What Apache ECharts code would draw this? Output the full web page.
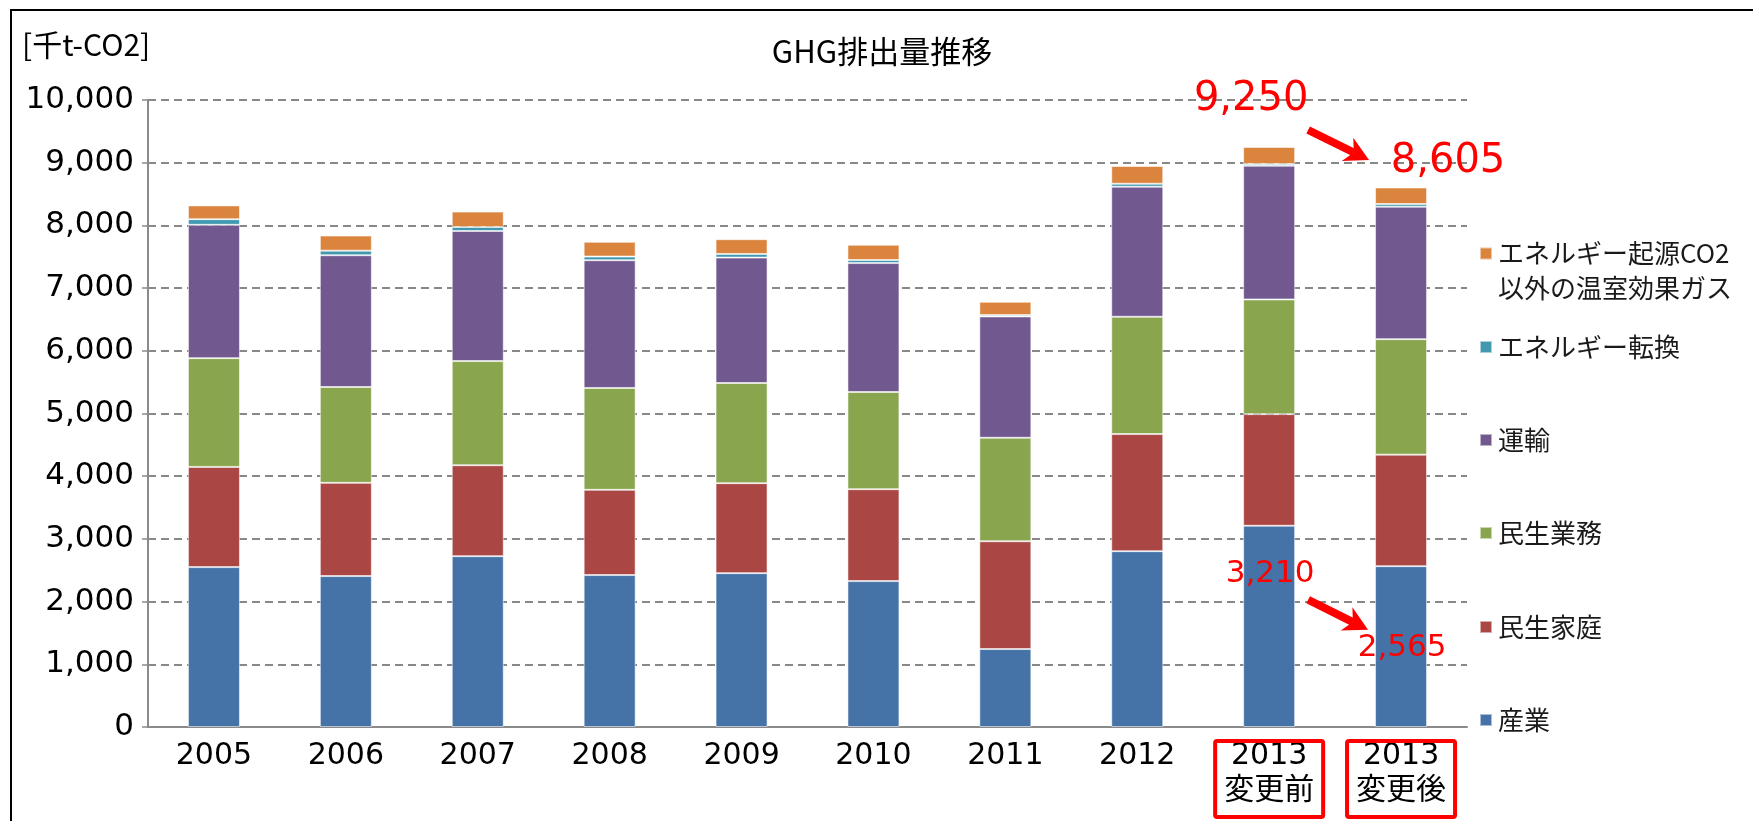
<!DOCTYPE html>
<html>
<head>
<meta charset="utf-8">
<title>GHG排出量推移</title>
<script src="https://cdn.jsdelivr.net/npm/echarts@6/dist/echarts.min.js"></script>
<style>
  html, body { margin: 0; padding: 0; background: #fff; }
  #chart { width: 1753px; height: 821px; }
</style>
</head>
<body>
<div id="chart"></div>
<script>
  // categories & values (千t-CO2)
  const categories = ['2005', '2006', '2007', '2008', '2009', '2010', '2011', '2012', '2013\n変更前', '2013\n変更後']
  const sangyo = [2550, 2407, 2725, 2423, 2454, 2327, 1243, 2804, 3210, 2565]
  const minseiKatei = [1598, 1487, 1450, 1360, 1435, 1466, 1720, 1868, 1780, 1779]
  const minseiGyomu = [1735, 1529, 1661, 1624, 1597, 1550, 1650, 1871, 1829, 1842]
  const unyu = [2127, 2101, 2075, 2038, 2001, 2056, 1935, 2074, 2133, 2112]
  const tenkan = [89, 73, 63, 58, 58, 48, 21, 48, 27, 42]
  const sonota = [220, 241, 246, 235, 235, 244, 213, 282, 271, 265]

  const seriesNames = ['産業', '民生家庭', '民生業務', '運輸', 'エネルギー転換', 'エネルギー起源CO2以外の温室効果ガス']
  const seriesData = [sangyo, minseiKatei, minseiGyomu, unyu, tenkan, sonota]
  const colors = ['#4572a7', '#aa4643', '#89a54e', '#71588f', '#4198af', '#db843d']
  // legend rows (y centre of each row)
  const legendY = [720, 627, 533, 440, 347, 270]

  // annotations: text, category, value, text offset
  const totals = [
    { text: '9,250', cat: 8, val: 9250, dx: -18, dy: -47, size: 40 },
    { text: '8,605', cat: 9, val: 8605, dx: 47, dy: -26, size: 40 },
    { text: '3,210', cat: 8, val: 3210, dx: 1, dy: 48, size: 31 },
    { text: '2,565', cat: 9, val: 2565, dx: 1, dy: 82, size: 31 }
  ]

  const numFont = "'DejaVu Sans', 'Noto Sans CJK JP', sans-serif"
  const jpFont = "'Noto Sans CJK JP', sans-serif"

  const chart = echarts.init(document.getElementById('chart'))

  const series = seriesNames.map((name, i) => ({
    name: name,
    type: 'bar',
    stack: 'ghg',
    barWidth: 52,
    data: seriesData[i],
    itemStyle: {
      color: colors[i],
      borderColor: 'rgba(255,255,255,0.55)',
      borderWidth: 1
    }
  }))

  const legends = seriesNames.map((name, i) => {
    const twoLine = i === 5
    const lh = twoLine ? 35 : 30
    return {
      data: [name],
      orient: 'vertical',
      left: 1479,
      top: twoLine ? 236 : legendY[i] - lh / 2,
      padding: 0,
      itemWidth: 12,
      itemHeight: twoLine ? 47 : 12,
      // two-line item: square sits on the first line
      icon: twoLine ? 'path://M0,0L12,0L12,12L0,12ZM0,47L0.05,47' : 'rect',
      selectedMode: false,
      formatter: twoLine ? () => 'エネルギー起源CO2\n以外の温室効果ガス' : '{name}',
      textStyle: {
        fontFamily: jpFont,
        fontSize: 26,
        lineHeight: lh,
        color: '#1a1a1a',
        padding: [0, 0, 0, 1]
      }
    }
  })

  chart.setOption({
    animation: false,
    title: {
      text: 'GHG排出量推移',
      left: 877,
      textAlign: 'center',
      top: 31,
      textStyle: {
        fontFamily: jpFont,
        fontSize: 31,
        fontWeight: 'normal',
        color: '#000'
      }
    },
    legend: legends,
    grid: {
      left: 148,
      right: 286,
      top: 100,
      bottom: 94
    },
    xAxis: {
      type: 'category',
      data: categories,
      axisLine: { lineStyle: { color: '#8a8a8a', width: 2 } },
      axisTick: { length: 8, lineStyle: { color: '#8a8a8a', width: 1.5 } },
      axisLabel: {
        interval: 0,
        margin: 12,
        fontFamily: numFont,
        fontSize: 30,
        lineHeight: 35,
        color: '#000'
      }
    },
    yAxis: {
      type: 'value',
      min: 0,
      max: 10000,
      interval: 1000,
      axisLine: { show: true, lineStyle: { color: '#8a8a8a', width: 2 } },
      axisTick: { show: true, length: 6, lineStyle: { color: '#8a8a8a', width: 1.5 } },
      axisLabel: {
        margin: 14,
        fontFamily: numFont,
        fontSize: 31,
        color: '#000',
        formatter: function (value) {
          return value.toLocaleString('en-US')
        }
      },
      splitLine: {
        show: true,
        lineStyle: { type: [8, 5], color: '#888', width: 2 }
      }
    },
    series: series
  })

  // overlay: frame, unit, red labels, arrows and boxes
  function arrow(x1, y1, x2, y2) {
    const len = Math.hypot(x2 - x1, y2 - y1)
    const ux = (x2 - x1) / len
    const uy = (y2 - y1) / len
    const nx = -uy
    const ny = ux
    const head = 24
    const half = 13
    const bx = x2 - ux * head
    const by = y2 - uy * head
    const notch = 7
    return [
      {
        type: 'line',
        shape: { x1: x1, y1: y1, x2: bx + ux * notch, y2: by + uy * notch },
        style: { stroke: '#ff0000', lineWidth: 8 },
        z: 100
      },
      {
        type: 'polygon',
        shape: {
          points: [
            [x2, y2],
            [bx + nx * half, by + ny * half],
            [bx + ux * notch, by + uy * notch],
            [bx - nx * half, by - ny * half]
          ]
        },
        style: { fill: '#ff0000' },
        z: 100
      }
    ]
  }

  const toPx = (cat, val) => chart.convertToPixel({ gridIndex: 0 }, [categories[cat], val])
  const axisY = toPx(0, 0)[1]

  const graphics = [
    {
      type: 'rect',
      shape: { x: 11, y: 10, width: 1800, height: 900 },
      style: { fill: 'none', stroke: '#000', lineWidth: 2 },
      silent: true
    },
    {
      type: 'text',
      left: 22,
      top: 30,
      style: {
        text: '[千t-CO2]',
        font: '30px ' + jpFont,
        fill: '#000'
      }
    }
  ]

  totals.forEach((t) => {
    const p = toPx(t.cat, t.val)
    graphics.push({
      type: 'text',
      x: p[0] + t.dx,
      y: p[1] + t.dy,
      style: {
        text: t.text,
        font: t.size + 'px ' + numFont,
        fill: '#ff0000',
        align: 'center',
        verticalAlign: 'middle'
      },
      z: 100
    })
  })

  // arrows between the two 2013 bars
  const c8 = toPx(8, 0)[0]
  const c9 = toPx(9, 0)[0]
  const yTop = toPx(8, 9250)[1]
  const yLow = toPx(8, 3210)[1]
  graphics.push(...arrow(c8 + 39, yTop - 17, c9 - 32, yTop + 13))
  graphics.push(...arrow(c8 + 39, yLow + 74, c9 - 33, yLow + 104))

  // red boxes around the 2013 labels
  ;[c8, c9].forEach((cx) => {
    graphics.push({
      type: 'rect',
      shape: { x: cx - 54, y: axisY + 14, width: 108, height: 76, r: 2 },
      style: { fill: 'none', stroke: '#ff0000', lineWidth: 4 },
      z: 100
    })
  })

  chart.setOption({ graphic: graphics })
</script>
</body>
</html>
